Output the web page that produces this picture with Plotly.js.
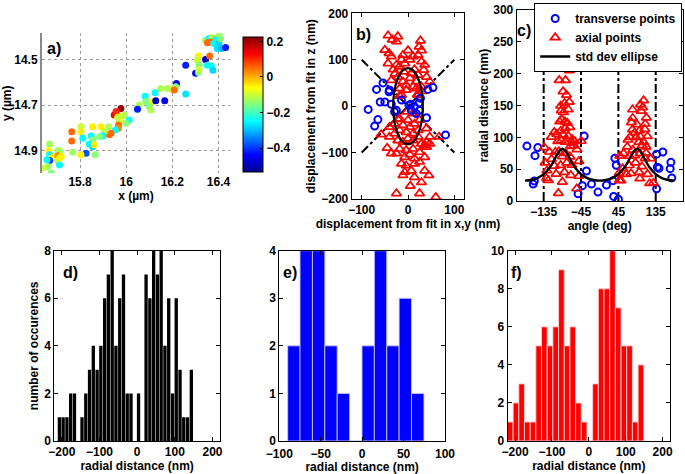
<!DOCTYPE html>
<html><head><meta charset="utf-8">
<script src="https://cdn.plot.ly/plotly-3.0.1.min.js"></script>
<style>html,body{margin:0;padding:0;background:#fff}#chart{width:685px;height:474px}</style>
</head><body><div id="chart"></div>
<script>
// ---------------- DATA ----------------
// a) localisations: x (µm), y (µm), colour value (z offset, µm)
const locX = [16.344,16.359,16.373,16.388,16.402,16.352,16.366,16.380,16.402,16.409,16.395,16.413,16.431,16.344,16.313,16.308,16.362,16.316,16.352,16.369,16.376,16.258,16.301,16.313,16.316,16.218,16.215,16.197,16.208,16.258,16.179,16.150,16.125,16.082,16.085,16.056,16.114,16.128,16.167,16.049,16.100,16.107,15.977,15.948,15.956,15.970,15.984,15.992,15.963,16.013,15.999,15.970,15.967,15.966,15.953,15.934,15.927,15.905,15.898,15.884,15.891,15.924,15.855,15.804,15.804,15.764,15.764,15.812,15.848,15.855,15.840,15.855,15.862,15.826,15.866,15.804,15.768,15.668,15.665,15.704,15.714,15.668,15.675,15.689,15.704,15.718,15.668,15.656,15.704,15.711,15.660,15.636,15.675,15.711];
const locY = [14.415,14.408,14.404,14.412,14.389,14.427,14.423,14.430,14.430,14.408,14.452,14.452,14.447,14.500,14.485,14.503,14.485,14.525,14.525,14.529,14.547,14.525,14.561,14.557,14.544,14.605,14.620,14.631,14.634,14.652,14.627,14.627,14.646,14.661,14.685,14.700,14.685,14.681,14.681,14.719,14.707,14.722,14.715,14.744,14.729,14.751,14.748,14.744,14.754,14.766,14.780,14.773,14.788,14.802,14.810,14.824,14.831,14.817,14.836,14.839,14.795,14.795,14.795,14.795,14.817,14.817,14.858,14.846,14.836,14.853,14.871,14.883,14.875,14.912,14.919,14.919,14.907,14.871,14.900,14.900,14.904,14.919,14.934,14.926,14.923,14.926,14.944,14.941,14.944,14.963,14.970,14.977,14.999,14.934];
const locC = [-0.13,-0.25,-0.10,-0.25,-0.13,0.05,0.05,-0.25,-0.28,-0.15,-0.27,-0.30,-0.42,-0.50,-0.05,-0.10,0.05,-0.15,-0.25,-0.25,-0.28,-0.42,-0.45,-0.15,-0.10,-0.45,-0.15,-0.05,0.05,-0.27,-0.12,-0.12,-0.25,-0.25,-0.15,-0.12,-0.07,-0.50,-0.45,-0.42,-0.15,-0.12,0.20,0.13,0.10,0.05,-0.05,-0.12,-0.10,-0.25,-0.15,-0.10,0.05,0.03,-0.25,0.05,0.05,-0.12,-0.25,-0.15,-0.05,-0.12,-0.05,-0.10,-0.05,0.05,0.05,-0.25,-0.25,-0.15,-0.25,-0.28,-0.05,-0.38,-0.15,-0.05,-0.13,-0.13,-0.05,-0.13,-0.13,-0.25,-0.05,-0.05,0.03,-0.05,-0.40,-0.25,-0.13,-0.25,-0.13,-0.10,-0.15,-0.05];
const colorRange = [-0.535, 0.225];
const locXTicks = [15.8, 16, 16.2, 16.4];
const locYTicks = [14.5, 14.7, 14.9];
const cbTicks = [-0.4, -0.2, 0, 0.2];

// b) displacement from fit (nm): transverse (circles) and axial (triangles)
const transX = [-54,-68,-41,-60,-50,-36,-86,-65,-72,-29,-14,6,14,24,25,27,43,54,40,81,-40,18,-25,7,2];
const transZ = [50,36,31,9,9,4,-7,-29,-43,-12,13,4,-1,7,-9,17,36,40,-25,-62,35,-16,-9,-9,2];
const axialX = [-43,-34,-22,-25,27,24,-41,-36,0,-11,11,22,29,-43,-32,-19,-7,14,34,40,-22,-11,4,18,-18,-4,11,29,47,30,-9,7,-36,22,-4,-58,-40,-29,-18,-11,0,14,25,40,47,-40,-29,-18,-4,11,22,-22,-11,11,29,36,40,-36,-25,-7,4,14,25,40,-14,-4,14,25,36,47,7,36,-11,29,45,-25,5,25,60,14,-7,-45,67,-18,22,20,11,-2,-14,4,-25,29,-28,18,-14,-22,4,0,22,-18,11,-4,-50,36];
const axialZ = [152,143,150,139,141,128,114,107,120,110,107,110,96,92,79,85,92,79,78,63,63,53,60,53,38,35,42,42,53,32,74,71,56,67,45,-61,-45,-38,-27,-41,-30,-38,-30,-48,-66,-66,-59,-52,-56,-59,-52,-74,-77,-74,-81,-84,-77,-102,-102,-110,-104,-113,-99,-88,-124,-128,-124,-120,-110,-81,-139,-139,-149,-164,-149,-188,-172,-188,-196,-153,-142,-90,-66,22,24,25,-16,-12,100,100,89,120,70,38,24,-28,-45,-70,-66,-92,-92,-95,121,89];
const ellipseSemiAxes = [32, 82];           // std dev in x,y and in z (nm)
const diagX = [-100, 100];
const diagZ1 = [100, -100];
const diagZ2 = [-100, 100];
const bXTicks = [-100, 0, 100];
const bYTicks = [-200, -100, 0, 100, 200];

// c) std dev ellipse radius vs angle, sector boundaries
const ellAngle = [-180,-165,-150,-135,-120,-112.5,-105,-97.5,-90,-82.5,-75,-67.5,-60,-45,-30,-15,0,15,30,45,60,67.5,75,82.5,90,97.5,105,112.5,120,135,150,165,180];
const ellRadius = [32,33,36,42.2,53,60.9,70,78.4,82,78.4,70,60.9,53,42.2,36,33,32,33,36,42.2,53,60.9,70,78.4,82,78.4,70,60.9,53,42.2,36,33,32];
const sectorAngles = [-135, -45, 45, 135];
const sectorTop = 205;
const cXTicks = [-135, -45, 45, 135];

// d) e) f) histograms of signed radial distance (nm)
const allBins = [-206.4,-196.5,-186.4,-176.5,-166.4,-156.4,-146.4,-136.4,-126.4,-116.4,-106.3,-96.4,-86.3,-76.4,-66.3,-56.3,-46.3,-36.3,-26.3,-16.3,-6.2,3.7,13.8,23.7,33.8,43.8,53.8,63.8,73.8,83.8,93.9,103.8,113.9,123.8,133.9,143.9];
const allCounts = [1,1,1,2,2,0,1,2,3,4,3,4,6,7,8,4,6,7,2,2,0,2,0,7,6,8,7,8,4,6,2,6,3,1,1,3];
const transBins = [-82.4,-67.5,-52.5,-37.6,-22.6,-7.7,7.3,22.2,37.2,52.1,67.1];
const transCounts = [2,4,4,2,1,0,2,4,2,3,1];
const axialBins = [-213.0,-197.6,-182.2,-166.8,-151.4,-136.0,-120.6,-105.2,-89.8,-74.4,-59.0,-43.6,-28.2,-12.8,2.6,18.0,33.4,48.8,64.2,79.6,95.0,110.4,125.8,141.2];
const axialCounts = [1,2,3,1,1,5,6,5,6,9,5,6,2,1,0,3,8,8,10,7,5,5,1,4];

// ---------------- HELPERS ----------------
const W = 685, H = 474;
const dx = (a, b) => [a / W, b / W];
const dy = (top, bottom) => [1 - bottom / H, 1 - top / H];
function polar(xs, zs) {
  return {
    ang: xs.map((x, i) => Math.atan2(zs[i], x) * 180 / Math.PI),
    r: xs.map((x, i) => Math.hypot(x, zs[i]))
  };
}
const tP = polar(transX, transZ);
const aP = polar(axialX, axialZ);

const jet = [[0, 'rgb(0,0,143)'], [0.125, 'rgb(0,0,255)'], [0.375, 'rgb(0,255,255)'],
             [0.625, 'rgb(255,255,0)'], [0.875, 'rgb(255,0,0)'], [1, 'rgb(128,0,0)']];
const RED = 'rgb(255,0,0)', BLUE = 'rgb(0,0,255)';

// sector lines for c
const secX = [], secY = [];
sectorAngles.forEach(a => { secX.push(a, a, null); secY.push(0, sectorTop, null); });

const traces = [
  // a)
  {type: 'scatter', mode: 'markers', x: locX, y: locY, xaxis: 'x', yaxis: 'y', showlegend: false,
   marker: {size: 7, color: locC, colorscale: jet, cmin: colorRange[0], cmax: colorRange[1],
            showscale: true,
            colorbar: {x: 242.7 / W, xanchor: 'left', y: 1 - 104.5 / H, yanchor: 'middle',
                       len: 135, lenmode: 'pixels', thickness: 19.6, thicknessmode: 'pixels',
                       outlinewidth: 1, outlinecolor: 'black', tickvals: cbTicks,
                       ticks: 'inside', ticklen: 3, tickcolor: 'black',
                       tickfont: {size: 12, color: 'black', weight: 'bold'}, xpad: 0, ypad: 0}}},
  // b)
  {type: 'scatter', mode: 'lines', x: diagX, y: diagZ1, xaxis: 'x2', yaxis: 'y2', showlegend: false,
   line: {color: 'black', width: 2, dash: 'dashdot'}},
  {type: 'scatter', mode: 'lines', x: diagX, y: diagZ2, xaxis: 'x2', yaxis: 'y2', showlegend: false,
   line: {color: 'black', width: 2, dash: 'dashdot'}},
  {type: 'scatter', mode: 'markers', x: axialX, y: axialZ, xaxis: 'x2', yaxis: 'y2', showlegend: false,
   marker: {symbol: 'triangle-up-open', size: 8.5, color: RED, line: {width: 1.7, color: RED}}},
  {type: 'scatter', mode: 'markers', x: transX, y: transZ, xaxis: 'x2', yaxis: 'y2', showlegend: false,
   marker: {symbol: 'circle-open', size: 7, color: BLUE, line: {width: 2, color: BLUE}}},
  // c)
  {type: 'scatter', mode: 'lines', x: secX, y: secY, xaxis: 'x3', yaxis: 'y3', showlegend: false,
   line: {color: 'black', width: 2, dash: 'dashdot'}},
  {type: 'scatter', mode: 'markers', name: 'transverse points', x: tP.ang, y: tP.r, xaxis: 'x3', yaxis: 'y3',
   legendrank: 1, marker: {symbol: 'circle-open', size: 7, color: BLUE, line: {width: 2, color: BLUE}}},
  {type: 'scatter', mode: 'markers', name: 'axial points', x: aP.ang, y: aP.r, xaxis: 'x3', yaxis: 'y3',
   legendrank: 2, marker: {symbol: 'triangle-up-open', size: 8.5, color: RED, line: {width: 1.7, color: RED}}},
  {type: 'scatter', mode: 'lines', name: 'std dev ellipse', x: ellAngle, y: ellRadius, xaxis: 'x3', yaxis: 'y3',
   legendrank: 3, line: {color: 'black', width: 2.4, shape: 'spline'}},
  // d) e) f)
  {type: 'bar', x: allBins, y: allCounts, xaxis: 'x4', yaxis: 'y4', showlegend: false, width: 8.8,
   marker: {color: 'black', line: {width: 0}}},
  {type: 'bar', x: transBins, y: transCounts, xaxis: 'x5', yaxis: 'y5', showlegend: false, width: 15,
   marker: {color: BLUE, line: {width: 1, color: 'rgba(200,200,255,0.9)'}}},
  {type: 'bar', x: axialBins, y: axialCounts, xaxis: 'x6', yaxis: 'y6', showlegend: false, width: 15.4,
   marker: {color: RED, line: {width: 1, color: 'rgba(255,210,210,0.9)'}}}
];

const tf = {size: 12, color: 'black', weight: 'bold'};
const boxAx = (o) => Object.assign({showline: true, mirror: 'ticks', linecolor: 'black', linewidth: 1,
  ticks: 'inside', ticklen: 4, tickcolor: 'black', zeroline: false, showgrid: false,
  tickfont: tf, fixedrange: true}, o);
const ttl = (text, standoff) => ({text, font: tf, standoff});

const layout = {
  width: W, height: H, margin: {l: 0, r: 0, t: 0, b: 0},
  paper_bgcolor: 'white', plot_bgcolor: 'white',
  font: {family: 'Liberation Sans, Arial, sans-serif', size: 12, color: 'black', weight: 'bold'},
  showlegend: true,
  legend: {x: 682.2 / W, xanchor: 'right', y: 1 - 3 / H, yanchor: 'top', bgcolor: 'white',
           bordercolor: 'black', borderwidth: 1, font: tf, tracegroupgap: 0, itemwidth: 30},
  // a)
  xaxis: {domain: dx(42, 230), anchor: 'y', range: [15.635, 16.45], tickvals: locXTicks,
          showgrid: true, griddash: 'dot', gridcolor: '#9a9a9a', gridwidth: 1, showline: false, zeroline: false,
          ticks: '', tickfont: tf, title: ttl('x (µm)', 2)},
  yaxis: {domain: dy(33.3, 173.3), anchor: 'x', range: [15.0, 14.385], tickvals: locYTicks,
          showgrid: true, griddash: 'dot', gridcolor: '#9a9a9a', gridwidth: 1, showline: true, linecolor: '#8a8a8a',
          linewidth: 2, zeroline: false, ticks: '', tickfont: tf, title: ttl('y (µm)', 2)},
  // b)
  xaxis2: boxAx({domain: dx(351.7, 464.3), anchor: 'y2', range: [-121.6, 121.6], tickvals: bXTicks,
          title: ttl('displacement from fit in x,y (nm)', 0)}),
  yaxis2: boxAx({domain: dy(13.3, 199), anchor: 'x2', range: [-200, 200], tickvals: bYTicks,
          title: ttl('displacement from fit in z (nm)', 3)}),
  // c)
  xaxis3: boxAx({domain: dx(516.7, 682.7), anchor: 'y3', range: [-200, 200], tickvals: cXTicks,
          title: ttl('angle (deg)', 1)}),
  yaxis3: boxAx({domain: dy(10, 201), anchor: 'x3', range: [0, 300], dtick: 50,
          title: ttl('radial distance (nm)', 2)}),
  // d)
  xaxis4: boxAx({domain: dx(54.3, 220), anchor: 'y4', range: [-220, 220], dtick: 100,
          title: ttl('radial distance (nm)', 1)}),
  yaxis4: boxAx({domain: dy(250.7, 441), anchor: 'x4', range: [0, 8], dtick: 2,
          title: ttl('number of occurences', 3)}),
  // e)
  xaxis5: boxAx({domain: dx(279.3, 445), anchor: 'y5', range: [-100, 100], dtick: 50, ticklabelstandoff: 2,
          title: ttl('radial distance (nm)', 2)}),
  yaxis5: boxAx({domain: dy(250.7, 441), anchor: 'x5', range: [0, 4], dtick: 1}),
  // f)
  xaxis6: boxAx({domain: dx(507.7, 670), anchor: 'y6', range: [-220, 220], dtick: 100,
          title: ttl('radial distance (nm)', 1)}),
  yaxis6: boxAx({domain: dy(250.7, 441), anchor: 'x6', range: [0, 10], dtick: 2}),
  shapes: [
    {type: 'circle', xref: 'x2', yref: 'y2', x0: -ellipseSemiAxes[0], x1: ellipseSemiAxes[0],
     y0: -ellipseSemiAxes[1], y1: ellipseSemiAxes[1], line: {color: 'black', width: 2.2}}
  ],
  annotations: [
    ['a)', 54, 49], ['b)', 363, 35], ['c)', 524, 31], ['d)', 70, 272], ['e)', 290, 272], ['f)', 516, 272]
  ].map(([t, px, py]) => ({text: t, xref: 'paper', yref: 'paper', x: px / W, y: 1 - py / H,
        xanchor: 'center', yanchor: 'middle', showarrow: false,
        font: {size: 16, color: 'black', weight: 'bold'}}))
};

Plotly.newPlot('chart', traces, layout, {staticPlot: true, displayModeBar: false});
</script>
</body></html>
